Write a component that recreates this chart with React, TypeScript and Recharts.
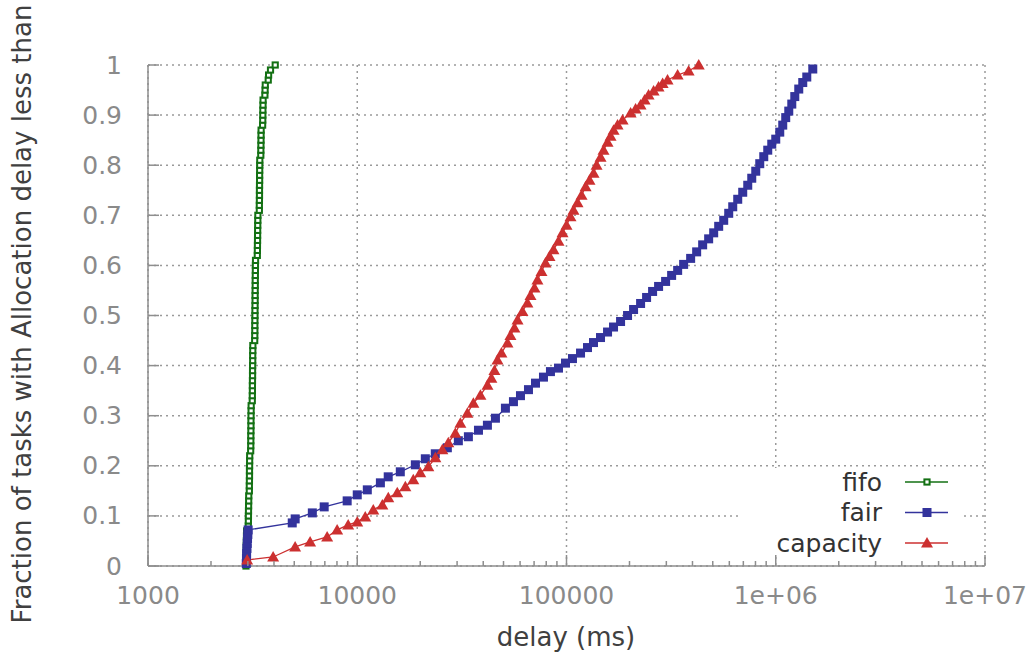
import React from 'react';
import { LineChart, Line, XAxis, YAxis, CartesianGrid } from 'recharts';

// [delay in ms, fraction of tasks]
const fifoPoints: [number, number][] = [
  [2940, 0.0], [2943, 0.01], [2946, 0.02], [2950, 0.03], [2950, 0.04], [2953, 0.05], [2956, 0.06], [2960, 0.07],
  [3015, 0.08], [3018, 0.09], [3020, 0.1], [3022, 0.11], [3025, 0.12], [3028, 0.13], [3030, 0.14],
  [3050, 0.15], [3050, 0.16], [3053, 0.17], [3055, 0.18], [3055, 0.19], [3058, 0.2], [3060, 0.21], [3062, 0.22],
  [3095, 0.23], [3098, 0.24], [3100, 0.25], [3100, 0.26], [3103, 0.27], [3105, 0.28], [3105, 0.29], [3108, 0.3],
  [3110, 0.31], [3112, 0.32],
  [3150, 0.33], [3152, 0.34], [3155, 0.35], [3155, 0.36], [3157, 0.37], [3160, 0.38], [3160, 0.39], [3162, 0.4],
  [3165, 0.41], [3165, 0.42], [3168, 0.43], [3170, 0.44],
  [3235, 0.45], [3238, 0.46], [3240, 0.47], [3240, 0.48], [3242, 0.49], [3245, 0.5], [3245, 0.51], [3248, 0.52],
  [3250, 0.53], [3250, 0.54], [3252, 0.55], [3255, 0.56], [3255, 0.57], [3258, 0.58], [3260, 0.59], [3262, 0.6],
  [3265, 0.61],
  [3330, 0.62], [3333, 0.63], [3335, 0.64], [3338, 0.65], [3340, 0.66], [3342, 0.67], [3345, 0.68], [3348, 0.69],
  [3350, 0.7],
  [3405, 0.71], [3405, 0.72], [3408, 0.73], [3410, 0.74], [3410, 0.75], [3412, 0.76], [3415, 0.77], [3415, 0.78],
  [3418, 0.79], [3420, 0.8], [3422, 0.81],
  [3460, 0.82], [3462, 0.83], [3465, 0.84], [3468, 0.85], [3470, 0.86], [3472, 0.87],
  [3530, 0.88], [3535, 0.89], [3538, 0.9], [3540, 0.91], [3545, 0.92], [3548, 0.93],
  [3620, 0.94], [3627, 0.95], [3635, 0.96], [3755, 0.97], [3770, 0.98], [3850, 0.99], [4055, 1.0],
];

const fairPoints: [number, number][] = [
  [2950, 0.005], [2955, 0.015], [2960, 0.025], [2970, 0.035], [2980, 0.045], [2990, 0.055], [3000, 0.063], [3010, 0.072],
  [4890, 0.086], [5050, 0.094], [6100, 0.106], [6950, 0.118], [8950, 0.13], [10000, 0.142], [11170, 0.152],
  [12900, 0.166], [14060, 0.178], [16060, 0.188], [18950, 0.202], [21150, 0.214], [23600, 0.224], [26950, 0.236],
  [30420, 0.25], [33970, 0.258], [37960, 0.271], [41880, 0.281], [45750, 0.295],
  [51060, 0.315], [55780, 0.328], [60260, 0.34], [65810, 0.352], [71100, 0.365], [77620, 0.377], [83810, 0.388],
  [91560, 0.395], [98900, 0.405], [106800, 0.414], [116700, 0.425], [126000, 0.436], [134600, 0.446],
  [145400, 0.456], [157100, 0.467], [167800, 0.477], [181300, 0.488], [195800, 0.5], [209200, 0.512],
  [226000, 0.524], [241400, 0.536], [257900, 0.548], [275500, 0.558], [297600, 0.568], [318000, 0.58],
  [339800, 0.59], [362900, 0.602], [392000, 0.614], [418800, 0.627], [447400, 0.641], [477900, 0.653],
  [505100, 0.665], [533700, 0.678], [564000, 0.69], [596000, 0.704], [622900, 0.717], [658100, 0.732],
  [695300, 0.746], [734800, 0.76], [767900, 0.774], [802500, 0.788], [838600, 0.803], [876400, 0.817],
  [915700, 0.83], [957000, 0.842], [1000000, 0.852], [1045000, 0.866], [1080000, 0.88], [1116000, 0.895],
  [1154000, 0.908], [1193000, 0.922], [1233000, 0.937], [1288000, 0.952], [1346000, 0.965], [1407000, 0.976],
  [1503000, 0.992],
];

const capacityPoints: [number, number][] = [
  [2977, 0.012], [3963, 0.018], [5048, 0.038], [5953, 0.048], [7180, 0.058], [8015, 0.072], [9050, 0.082],
  [10000, 0.088], [10920, 0.098], [11930, 0.112], [13180, 0.122], [14070, 0.136], [15530, 0.146], [16980, 0.158],
  [18530, 0.172], [20000, 0.186], [21860, 0.198], [23620, 0.216], [25510, 0.232], [27240, 0.246], [29430, 0.265],
  [31100, 0.285], [33590, 0.305], [35890, 0.325], [38780, 0.341], [41910, 0.361], [43760, 0.375], [45240, 0.39],
  [46790, 0.411], [48870, 0.425], [52250, 0.445], [53970, 0.46], [56390, 0.475], [58340, 0.491], [61580, 0.508],
  [65040, 0.525], [67280, 0.54], [70290, 0.555], [72620, 0.571], [75930, 0.588], [79370, 0.605], [82940, 0.618],
  [86650, 0.631], [91560, 0.648], [95720, 0.665], [100000, 0.68], [104500, 0.697], [108000, 0.71], [112900, 0.725],
  [118000, 0.74], [123400, 0.757], [128800, 0.77], [134700, 0.784], [139200, 0.8], [145500, 0.816], [150300, 0.83],
  [157100, 0.846], [162400, 0.858], [167900, 0.87], [175400, 0.88], [185400, 0.89], [202500, 0.904], [213900, 0.912],
  [225900, 0.92], [236200, 0.93], [246700, 0.94], [260800, 0.948], [275400, 0.956], [288000, 0.963], [304000, 0.97],
  [339700, 0.98], [383400, 0.988], [428500, 1.0],
];

const majorXTicks = [1000, 10000, 100000, 1000000, 10000000];
const majorXLabels = ['1000', '10000', '100000', '1e+06', '1e+07'];
const minorXTicks = [
  2000, 3000, 4000, 5000, 6000, 7000, 8000, 9000,
  20000, 30000, 40000, 50000, 60000, 70000, 80000, 90000,
  200000, 300000, 400000, 500000, 600000, 700000, 800000, 900000,
  2000000, 3000000, 4000000, 5000000, 6000000, 7000000, 8000000, 9000000,
];
const yTicks = [0, 0.1, 0.2, 0.3, 0.4, 0.5, 0.6, 0.7, 0.8, 0.9, 1];
const yLabels = ['0', '0.1', '0.2', '0.3', '0.4', '0.5', '0.6', '0.7', '0.8', '0.9', '1'];

const toRows = (pts: [number, number][]) => pts.map(([x, y]) => ({ x, y }));

const FONT = 'DejaVu Sans';
const AXIS_GRAY = '#8e8e8e';
const LABEL_GRAY = '#8a8a8a';

const GREEN = '#137013';
const BLUE = '#33339c';
const RED = '#cc3030';

const HollowSquare = ({ cx, cy }: { cx: number; cy: number }) => (
  <rect x={cx - 2.6} y={cy - 2.6} width={5.2} height={5.2} fill="#fff" stroke={GREEN} strokeWidth={2} />
);
const FilledSquare = ({ cx, cy }: { cx: number; cy: number }) => (
  <rect x={cx - 4.5} y={cy - 4.5} width={9} height={9} fill={BLUE} />
);
const Triangle = ({ cx, cy }: { cx: number; cy: number }) => (
  <polygon points={`${cx},${cy - 6} ${cx + 6},${cy + 4.5} ${cx - 6},${cy + 4.5}`} fill={RED} />
);

const series = [
  { name: 'fifo', rows: toRows(fifoPoints), color: GREEN, Marker: HollowSquare },
  { name: 'fair', rows: toRows(fairPoints), color: BLUE, Marker: FilledSquare },
  { name: 'capacity', rows: toRows(capacityPoints), color: RED, Marker: Triangle },
];

const XTick = (props: any) => {
  const { x, y, payload } = props;
  const idx = majorXTicks.indexOf(payload.value);
  const major = idx >= 0;
  return (
    <g>
      <line x1={x} x2={x} y1={y} y2={y - (major ? 11 : 5)} stroke={AXIS_GRAY} strokeWidth={1.5} />
      {major && (
        <text x={x} y={y + 29} textAnchor="middle" dominantBaseline="central" fontSize={25} fontFamily={FONT} fill={LABEL_GRAY}>
          {majorXLabels[idx]}
        </text>
      )}
    </g>
  );
};

const YTick = (props: any) => {
  const { x, y, payload } = props;
  const idx = yTicks.indexOf(payload.value);
  return (
    <g>
      <line x1={x} x2={x + 11} y1={y} y2={y} stroke={AXIS_GRAY} strokeWidth={1.5} />
      <text x={x - 26} y={y} textAnchor="end" dominantBaseline="central" fontSize={25} fontFamily={FONT} fill={LABEL_GRAY}>
        {yLabels[idx]}
      </text>
    </g>
  );
};

export default function App() {
  return (
    <div style={{ position: 'absolute', left: 0, top: 0, width: 1030, height: 660, background: '#fff' }}>
      <LineChart width={1030} height={660} margin={{ top: 65, right: 45, bottom: 0, left: 0 }}>
        <CartesianGrid
          stroke="#9a9a9a"
          strokeWidth={1.5}
          strokeDasharray="2 4"
          verticalValues={majorXTicks}
          horizontalValues={yTicks}
        />
        <XAxis
          dataKey="x"
          type="number"
          scale="log"
          domain={[1000, 10000000]}
          allowDataOverflow
          ticks={[...majorXTicks, ...minorXTicks].sort((a, b) => a - b)}
          interval={0}
          height={94}
          tickSize={0}
          tickMargin={0}
          tick={(p: any) => <XTick {...p} />}
          tickLine={false}
          axisLine={{ stroke: AXIS_GRAY, strokeWidth: 1.5 }}
        />
        <YAxis
          type="number"
          domain={[0, 1]}
          ticks={yTicks}
          interval={0}
          width={148}
          tickSize={0}
          tickMargin={0}
          tick={(p: any) => <YTick {...p} />}
          tickLine={false}
          axisLine={{ stroke: AXIS_GRAY, strokeWidth: 1.5 }}
        />
        {series.map((s) => (
          <Line
            key={s.name}
            data={s.rows}
            dataKey="y"
            name={s.name}
            type="linear"
            stroke={s.color}
            strokeWidth={1.3}
            isAnimationActive={false}
            activeDot={false}
            dot={(p: any) => <s.Marker key={`${s.name}-${p.index}`} cx={p.cx} cy={p.cy} />}
          />
        ))}
      </LineChart>
      <svg width={1030} height={660} style={{ position: 'absolute', left: 0, top: 0, pointerEvents: 'none' }}>
        <text
          transform="translate(22,314) rotate(-90)"
          textAnchor="middle"
          dominantBaseline="central"
          fontSize={26}
          fontFamily={FONT}
          fill="#404040"
        >
          Fraction of tasks with Allocation delay less than
        </text>
        <text x={566} y={637} textAnchor="middle" dominantBaseline="central" fontSize={26} fontFamily={FONT} fill="#404040">
          delay (ms)
        </text>
        <rect x={742} y={468} width={221} height={86} fill="#fff" />
        {series.map((s, i) => {
          const cy = 482 + i * 30.5;
          return (
            <g key={s.name}>
              <text x={882} y={cy} textAnchor="end" dominantBaseline="central" fontSize={25} fontFamily={FONT} fill="#333">
                {s.name}
              </text>
              <line x1={905} x2={948} y1={cy} y2={cy} stroke={s.color} strokeWidth={1.5} />
              <s.Marker cx={927} cy={cy} />
            </g>
          );
        })}
      </svg>
    </div>
  );
}
